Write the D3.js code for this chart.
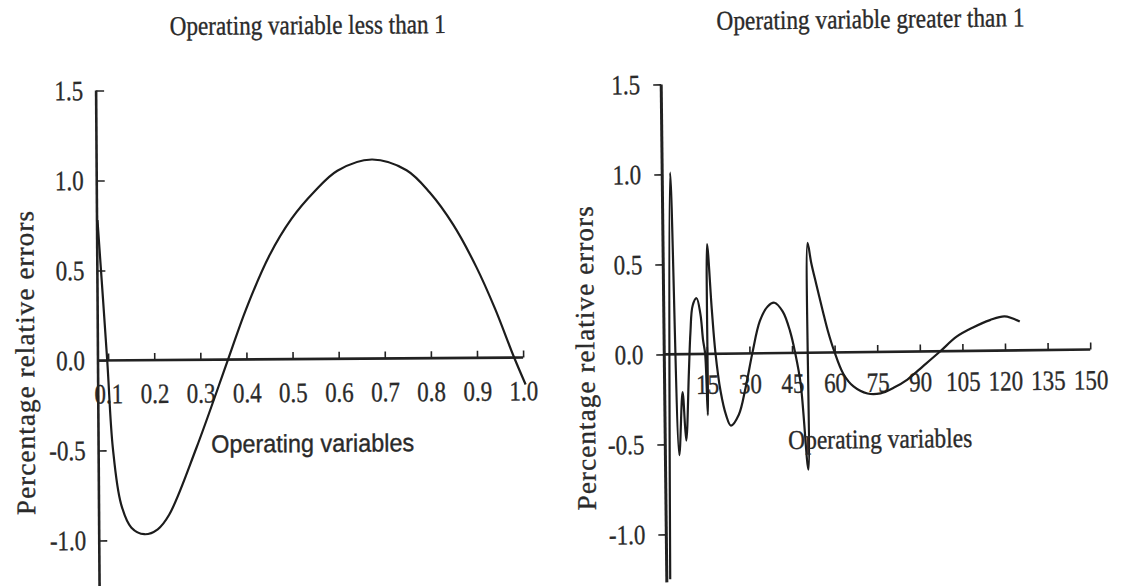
<!DOCTYPE html>
<html>
<head>
<meta charset="UTF-8">
<title>Percentage relative errors</title>
<script src="https://cdn.jsdelivr.net/npm/d3@7"></script>
<style>
    body { margin: 0; background: #fff; }
    text { font-family: "Liberation Serif", "Times New Roman", serif; fill: #2a2a2a; stroke: #2a2a2a; stroke-width: 0.35px; }
    .sans { font-family: "Liberation Sans", Arial, sans-serif; }
</style>
</head>
<body>
<svg id="chart" width="1125" height="586"></svg>
<script>
    // left panel: operating variable < 1
    var leftX = [0.079, 0.098, 0.109, 0.126, 0.148, 0.176, 0.205, 0.23, 0.29, 0.36, 0.40, 0.45, 0.50, 0.55, 0.60, 0.675, 0.75, 0.80, 0.85, 0.90, 0.94, 0.979, 1.005];
    var leftY = [0.78, 0.0, -0.49, -0.8, -0.93, -0.967, -0.94, -0.86, -0.49, 0.0, 0.28, 0.57, 0.78, 0.93, 1.045, 1.106, 1.045, 0.92, 0.742, 0.504, 0.271, 0.01, -0.15];
    var leftXTicks = [0.1, 0.2, 0.3, 0.4, 0.5, 0.6, 0.7, 0.8, 0.9, 1.0];

    // right panel: operating variable > 1
    var rightX = [1.2, 2.8, 4.9, 6.3, 7.4, 8.6, 9.3, 10.2, 11.6, 12.9, 13.7, 14.4, 15.1, 15.5, 16.9, 18.0, 19.7, 21.5, 23.2, 26, 28.5, 31, 33.8, 36.6, 39, 41.9, 44.4, 46.1, 47.9, 50.3, 50.9, 52.1, 53.8, 56, 57.7, 59.8, 63, 66.5, 71.4, 76, 80.6, 85.5, 91.2, 97.2, 103, 108.8, 114.8, 120, 125.3];
    var rightY = [-1.25, 1.01, -0.56, -0.21, -0.48, -0.1, 0.12, 0.27, 0.31, 0.22, 0.08, 0.0, -0.34, 0.61, 0.25, 0.01, -0.21, -0.34, -0.40, -0.34, -0.19, 0.0, 0.18, 0.26, 0.28, 0.23, 0.12, 0.0, -0.17, -0.65, 0.61, 0.50, 0.38, 0.23, 0.12, 0.01, -0.12, -0.19, -0.23, -0.23, -0.2, -0.155, -0.08, 0.0, 0.08, 0.13, 0.17, 0.19, 0.16];
    var rightXTicks = [15, 30, 45, 60, 75, 90, 105, 120, 135, 150];

    var yTicks = [-1.0, -0.5, 0.0, 0.5, 1.0, 1.5];
    var titles = ["Operating variable less than 1", "Operating variable greater than 1"];
    var xTitle = "Operating variables";
    var yTitle = "Percentage relative errors";

    var svg = d3.select("#chart");
    var fmt = function (d) { return d.toFixed(1); };
    var fmtInt = function (d) { return String(d); };

    // squeeze text horizontally, the scan has narrow letters
    function squeeze(sel, k) {
        sel.each(function () {
            var w = this.getComputedTextLength();
            d3.select(this).attr("textLength", w * k).attr("lengthAdjust", "spacingAndGlyphs");
        });
    }

    function styleAxis(g) {
        g.select(".domain").remove();
        g.selectAll(".tick line").attr("stroke", "#222").attr("stroke-width", 1.6);
        g.selectAll(".tick text")
            .attr("fill", "#2a2a2a")
            .style("font-family", "Liberation Serif")
            .style("font-size", "28px");
    }

    // ---------- left panel ----------
    var L = svg.append("g").attr("transform", "rotate(-0.4 310 340)");
    var xL = d3.scaleLinear().domain([0.1, 1.0]).range([108, 523]);
    var yL = d3.scaleLinear().domain([0, 1.5]).range([359, 89]);
    var axisAtL = 0.078;

    var gxL = L.append("g")
        .attr("transform", "translate(0," + yL(0) + ")")
        .call(d3.axisBottom(xL).tickValues(leftXTicks).tickFormat(fmt).tickSize(-7).tickPadding(23));
    styleAxis(gxL);
    squeeze(gxL.selectAll(".tick text"), 0.82);

    var gyL = L.append("g")
        .attr("transform", "translate(" + xL(axisAtL) + ",0)")
        .call(d3.axisLeft(yL).tickValues(yTicks).tickFormat(fmt).tickSize(-8).tickPadding(13));
    styleAxis(gyL);
    squeeze(gyL.selectAll(".tick text"), 0.82);

    L.append("line")
        .attr("x1", xL(axisAtL)).attr("x2", xL(1.0))
        .attr("y1", yL(0)).attr("y2", yL(0))
        .attr("stroke", "#222").attr("stroke-width", 2.6);
    L.append("line")
        .attr("x1", xL(axisAtL)).attr("x2", xL(axisAtL))
        .attr("y1", yL(1.5)).attr("y2", 600)
        .attr("stroke", "#222").attr("stroke-width", 2.6);

    var lineL = d3.line()
        .x(function (d, i) { return xL(leftX[i]); })
        .y(function (d, i) { return yL(leftY[i]); })
        .curve(d3.curveCatmullRom.alpha(0.5));
    L.append("path")
        .attr("d", lineL(leftX))
        .attr("fill", "none").attr("stroke", "#1c1c1c").attr("stroke-width", 2.2);

    L.append("text")
        .attr("x", 310).attr("y", 34)
        .attr("text-anchor", "middle")
        .style("font-size", "27px")
        .attr("textLength", 276).attr("lengthAdjust", "spacingAndGlyphs")
        .text(titles[0]);

    L.append("text")
        .attr("class", "sans")
        .attr("x", 312).attr("y", 452)
        .attr("text-anchor", "middle")
        .style("font-size", "25px")
        .attr("textLength", 203).attr("lengthAdjust", "spacingAndGlyphs")
        .text(xTitle);

    L.append("text")
        .attr("transform", "translate(34,361) rotate(-90)")
        .attr("text-anchor", "middle")
        .style("font-size", "27px")
        .attr("textLength", 304).attr("lengthAdjust", "spacing")
        .text(yTitle);

    // ---------- right panel ----------
    var R = svg.append("g").attr("transform", "rotate(-0.65 875 330)");
    var xR = d3.scaleLinear().domain([0, 150]).range([664, 1090]);
    var yR = d3.scaleLinear().domain([0, 1.5]).range([352, 82]);

    var gxR = R.append("g")
        .attr("transform", "translate(0," + yR(0) + ")")
        .call(d3.axisBottom(xR).tickValues(rightXTicks).tickFormat(fmtInt).tickSize(-7).tickPadding(20));
    styleAxis(gxR);
    squeeze(gxR.selectAll(".tick text"), 0.82);

    var gyR = R.append("g")
        .attr("transform", "translate(" + xR(0) + ",0)")
        .call(d3.axisLeft(yR).tickValues(yTicks).tickFormat(fmt).tickSize(8).tickPadding(13));
    styleAxis(gyR);
    squeeze(gyR.selectAll(".tick text"), 0.82);

    R.append("line")
        .attr("x1", xR(0)).attr("x2", xR(150))
        .attr("y1", yR(0)).attr("y2", yR(0))
        .attr("stroke", "#222").attr("stroke-width", 2.6);
    R.append("line")
        .attr("x1", xR(0)).attr("x2", xR(0))
        .attr("y1", yR(1.5)).attr("y2", 580)
        .attr("stroke", "#222").attr("stroke-width", 3);

    var lineR = d3.line()
        .x(function (d, i) { return xR(rightX[i]); })
        .y(function (d, i) { return yR(rightY[i]); })
        .curve(d3.curveCatmullRom.alpha(0.5));
    R.append("path")
        .attr("d", lineR(rightX))
        .attr("fill", "none").attr("stroke", "#1c1c1c").attr("stroke-width", 2.2);

    R.append("text")
        .attr("x", 874).attr("y", 28)
        .attr("text-anchor", "middle")
        .style("font-size", "27px")
        .attr("textLength", 308).attr("lengthAdjust", "spacingAndGlyphs")
        .text(titles[1]);

    R.append("text")
        .attr("x", 879).attr("y", 448)
        .attr("text-anchor", "middle")
        .style("font-size", "27px")
        .attr("textLength", 184).attr("lengthAdjust", "spacingAndGlyphs")
        .text(xTitle);

    R.append("text")
        .attr("transform", "translate(594,355) rotate(-90)")
        .attr("text-anchor", "middle")
        .style("font-size", "27px")
        .attr("textLength", 304).attr("lengthAdjust", "spacing")
        .text(yTitle);
</script>
</body>
</html>
